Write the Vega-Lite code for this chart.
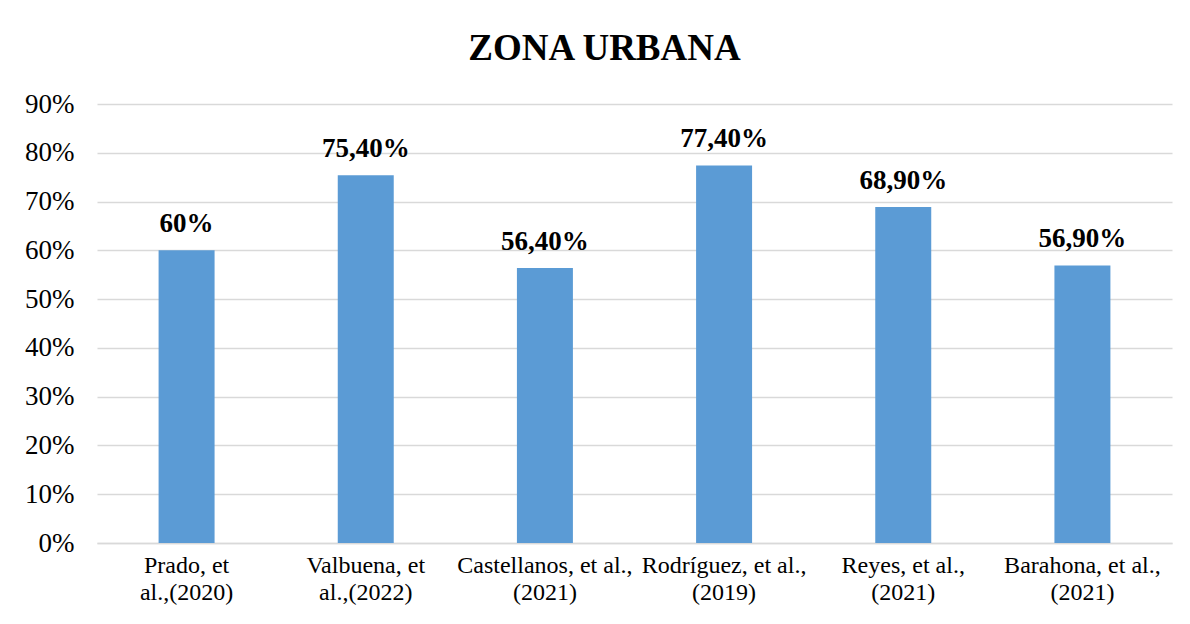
{
  "$schema": "https://vega.github.io/schema/vega-lite/v6.json",
  "autosize": {"type": "none"},
  "width": 1075,
  "height": 439,
  "padding": {"left": 97, "top": 104, "right": 18, "bottom": 81},
  "background": "white",
  "title": {
    "text": "ZONA URBANA",
    "font": "Liberation Serif",
    "fontSize": 37,
    "fontWeight": "bold",
    "color": "#000000",
    "anchor": "middle",
    "dx": -30,
    "offset": 22
  },
  "data": {
    "values": [
      {"autor": "Prado, et\nal.,(2020)", "valor": 0.60, "etiqueta": "60%"},
      {"autor": "Valbuena, et\nal.,(2022)", "valor": 0.754, "etiqueta": "75,40%"},
      {"autor": "Castellanos, et al.,\n(2021)", "valor": 0.564, "etiqueta": "56,40%"},
      {"autor": "Rodríguez, et al.,\n(2019)", "valor": 0.774, "etiqueta": "77,40%"},
      {"autor": "Reyes, et al.,\n(2021)", "valor": 0.689, "etiqueta": "68,90%"},
      {"autor": "Barahona, et al.,\n(2021)", "valor": 0.569, "etiqueta": "56,90%"}
    ]
  },
  "encoding": {
    "x": {
      "field": "autor",
      "type": "nominal",
      "sort": null,
      "scale": {"paddingInner": 0.6875, "paddingOuter": 0.34375},
      "axis": {
        "title": null,
        "labelAngle": 0,
        "labelFont": "Liberation Serif",
        "labelFontSize": 24,
        "labelColor": "#000000",
        "labelLineHeight": 27,
        "labelPadding": 10,
        "labelExpr": "split(datum.label, '\\n')",
        "ticks": false,
        "domain": true,
        "domainColor": "#D9D9D9",
        "domainWidth": 1.5
      }
    },
    "y": {
      "field": "valor",
      "type": "quantitative",
      "scale": {"domain": [0, 0.9], "nice": false},
      "axis": {
        "title": null,
        "format": ".0%",
        "values": [0, 0.1, 0.2, 0.3, 0.4, 0.5, 0.6, 0.7, 0.8, 0.9],
        "labelFont": "Liberation Serif",
        "labelFontSize": 27,
        "labelColor": "#000000",
        "labelPadding": 23,
        "ticks": false,
        "domain": false,
        "grid": true,
        "gridColor": "#D9D9D9",
        "gridWidth": 1.5
      }
    }
  },
  "layer": [
    {"mark": {"type": "bar", "color": "#5B9BD5"}},
    {
      "mark": {
        "type": "text",
        "baseline": "alphabetic",
        "dy": -18,
        "font": "Liberation Serif",
        "fontSize": 27,
        "fontWeight": "bold",
        "color": "#000000"
      },
      "encoding": {"text": {"field": "etiqueta"}}
    }
  ],
  "config": {"view": {"stroke": null}}
}
